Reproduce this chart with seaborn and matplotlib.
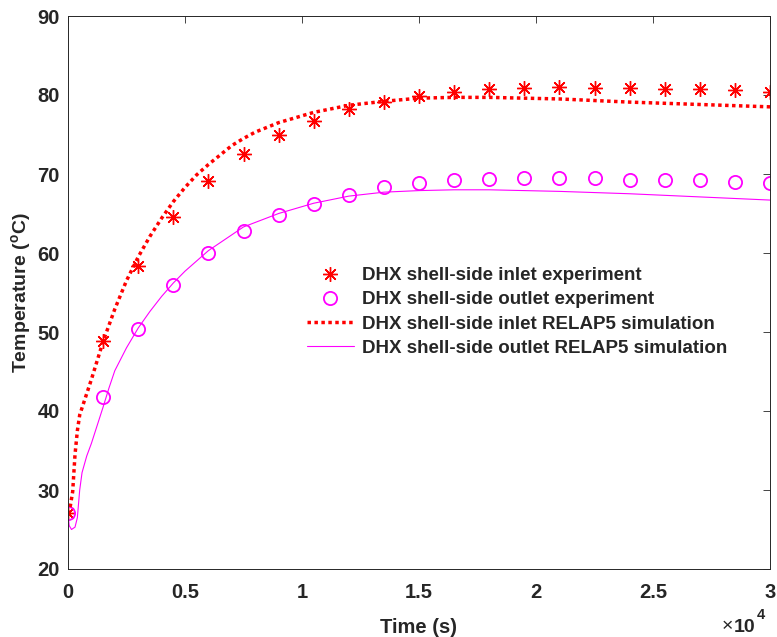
import numpy as np
import pandas as pd
import matplotlib
matplotlib.use("Agg")
import matplotlib.pyplot as plt
import seaborn as sns

# Measured DHX shell-side temperatures (deg C) every 1500 s
exp_time = [0, 1500, 3000, 4500, 6000, 7500, 9000, 10500, 12000, 13500, 15000,
            16500, 18000, 19500, 21000, 22500, 24000, 25500, 27000, 28500, 30000]
inlet_exp = [27.1, 48.8, 58.3, 64.6, 69.1, 72.5, 75.0, 76.7, 78.2, 79.1, 79.9,
             80.4, 80.7, 80.9, 81.0, 80.9, 80.9, 80.7, 80.7, 80.6, 80.4]
outlet_exp = [27.1, 41.8, 50.4, 56.0, 60.0, 62.8, 64.8, 66.2, 67.4, 68.3, 68.9,
              69.2, 69.4, 69.5, 69.5, 69.5, 69.2, 69.2, 69.2, 69.0, 68.8]

# RELAP5 simulation results
inlet_sim_time = [0, 100, 200, 300, 400, 500, 700, 1000, 1500, 2000, 2500, 3000,
                  3500, 4000, 4500, 5000, 5500, 6000, 6500, 7000, 7500, 8000,
                  9000, 10500, 12000, 13500, 15000, 16500, 18000, 21000, 24000,
                  27000, 30000]
inlet_sim = [27.0, 28.0, 29.8, 34.5, 37.5, 39.5, 41.3, 44.0, 48.8, 52.9, 56.5, 59.5,
             62.1, 64.4, 66.5, 68.3, 69.9, 71.2, 72.4, 73.6, 74.5, 75.3,
             76.5, 77.8, 78.7, 79.2, 79.6, 79.7, 79.7, 79.5, 79.1,
             78.8, 78.5]

outlet_sim_time = [0, 50, 150, 300, 400, 500, 600, 800, 1000, 1250, 1500, 1750,
                   2000, 2500, 3000, 3500, 4000, 4500, 5000, 6000, 7500, 9000,
                   10500, 12000, 13500, 15000, 16500, 18000, 21000, 24000, 27000,
                   30000]
outlet_sim = [27.0, 25.5, 25.0, 25.3, 26.5, 30.0, 32.2, 34.3, 35.9, 38.2, 40.5, 42.9,
              45.1, 48.0, 50.5, 52.6, 54.5, 56.2, 57.7, 60.3, 63.3, 65.0,
              66.3, 67.2, 67.7, 67.9, 68.0, 68.0, 67.8, 67.5, 67.1,
              66.7]

labels = ["DHX shell-side inlet experiment",
          "DHX shell-side outlet experiment",
          "DHX shell-side inlet RELAP5 simulation",
          "DHX shell-side outlet RELAP5 simulation"]

x_ticks = [0, 5000, 10000, 15000, 20000, 25000, 30000]
x_tick_labels = ["0", "0.5", "1", "1.5", "2", "2.5", "3"]
y_ticks = [20, 30, 40, 50, 60, 70, 80, 90]

sns.set_style("white")
plt.rcParams["font.family"] = ["Liberation Sans", "DejaVu Sans"]
plt.rcParams["font.weight"] = "bold"
plt.rcParams["mathtext.fontset"] = "custom"
plt.rcParams["mathtext.rm"] = "Liberation Sans:bold"
plt.rcParams["mathtext.bf"] = "Liberation Sans:bold"
plt.rcParams["mathtext.it"] = "Liberation Sans:bold"

W, H = 777, 637
fig = plt.figure(figsize=(W / 100, H / 100), dpi=100)
ax = fig.add_axes([68 / W, 1 - 569 / H, 702 / W, 553 / H])

exp_df = pd.DataFrame({"time": exp_time, "inlet": inlet_exp, "outlet": outlet_exp})
in_sim_df = pd.DataFrame({"time": inlet_sim_time, "temp": inlet_sim})
out_sim_df = pd.DataFrame({"time": outlet_sim_time, "temp": outlet_sim})

red = "#FF0000"
magenta = "#FF00FF"

sns.lineplot(data=exp_df, x="time", y="inlet", ax=ax, errorbar=None, sort=False,
             color=red, linestyle="", marker=(8, 2, 0), markersize=10.5,
             mec=red, mew=1.0, label=labels[0])
sns.lineplot(data=exp_df, x="time", y="outlet", ax=ax, errorbar=None, sort=False,
             color=magenta, linestyle="", marker="o", markersize=9.5,
             mfc="none", mec=magenta, mew=1.3, label=labels[1])
sns.lineplot(data=in_sim_df, x="time", y="temp", ax=ax, errorbar=None, sort=False,
             color=red, linestyle=(0, (1, 1)), linewidth=2.5,
             dash_capstyle="butt", label=labels[2])
sns.lineplot(data=out_sim_df, x="time", y="temp", ax=ax, errorbar=None, sort=False,
             color=magenta, linewidth=0.8, label=labels[3])

ax.set_xlim(0, 30000)
ax.set_ylim(20, 90)
ax.set_xticks(x_ticks)
ax.set_xticklabels(x_tick_labels)
ax.set_yticks(y_ticks)
ax.set_yticklabels([str(v) for v in y_ticks])

tick_col = "#262626"
ax.tick_params(axis="both", direction="in", length=5, width=0.6, color=tick_col,
               top=True, right=True, labelsize=14.5, labelcolor=tick_col)
ax.tick_params(axis="x", pad=10)
ax.tick_params(axis="y", pad=6)
for s in ax.spines.values():
    s.set_visible(True)
    s.set_color(tick_col)
    s.set_linewidth(0.7)

ax.set_xlabel("Time (s)", fontsize=14.5, fontweight="bold", color=tick_col)
ax.set_ylabel(r"Temperature ($^{\mathrm{o}}$C)", fontsize=14, fontweight="bold",
              color=tick_col)
ax.xaxis.set_label_coords(0.5, -0.088)
ax.yaxis.set_label_coords(-0.05, 0.5)

# exponent for the time axis
fig.text(727 / W, 1 - 627 / H, "\u00d7", fontsize=14, fontweight="normal",
         color=tick_col, ha="center", va="center")
fig.text(734 / W, 1 - 627 / H, "10", fontsize=14, fontweight="bold",
         color=tick_col, ha="left", va="center")
fig.text(757 / W, 1 - 615 / H, "4", fontsize=10.5, fontweight="bold",
         color=tick_col, ha="left", va="center")

ax.legend(loc="center left", bbox_to_anchor=((307 - 68) / 702, (569 - 312) / 553),
          frameon=False, fontsize=13.5, handlelength=2.5, handletextpad=0.45,
          labelspacing=0.38, borderpad=0, borderaxespad=0)

fig.savefig("out.png", dpi=100)
